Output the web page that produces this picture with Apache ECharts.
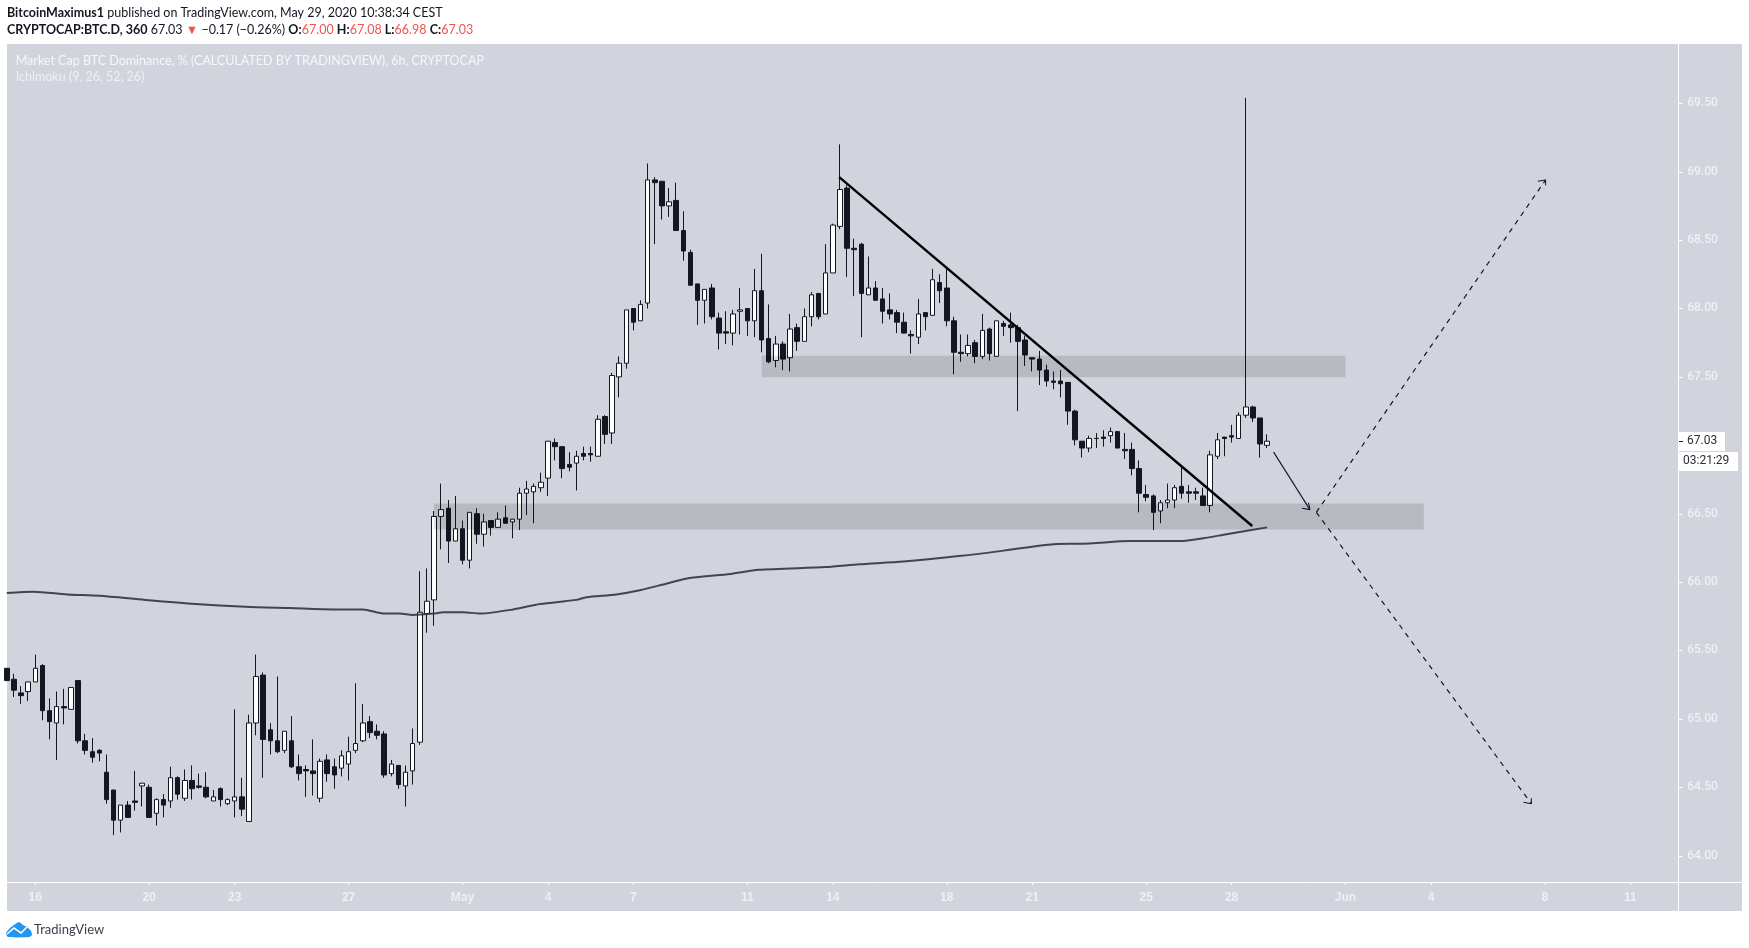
<!DOCTYPE html>
<html>
<head>
<meta charset="utf-8">
<style>
html, body { margin: 0; padding: 0; background: #fff; }
#chart { width: 1749px; height: 948px; }
</style>
<script src="https://cdn.jsdelivr.net/npm/echarts@6/dist/echarts.min.js"></script>
</head>
<body>
<div id="chart"></div>
<script>
// 6h candles, first one is Apr 15 00:00
var opens = [65.37,65.29,65.19,65.20,65.27,65.39,65.06,64.97,65.09,65.07,
  65.28,64.84,64.76,64.77,64.61,64.48,64.26,64.37,64.40,64.51,
  64.50,64.31,64.41,64.40,64.57,64.42,64.55,64.51,64.50,64.40,
  64.49,64.38,64.40,64.43,64.25,64.97,65.32,64.92,64.84,64.77,
  64.84,64.65,64.63,64.62,64.42,64.70,64.65,64.64,64.67,64.77,
  64.84,64.98,64.91,64.89,64.60,64.66,64.51,64.62,64.83,65.77,
  65.87,66.48,66.54,66.30,66.39,66.16,66.50,66.35,66.45,66.40,
  66.47,66.44,66.46,66.65,66.66,66.69,66.76,67.02,66.99,66.86,
  66.87,66.94,66.94,66.92,67.21,67.09,67.50,67.60,68.00,67.91,
  68.04,68.94,68.93,68.75,68.79,68.57,68.41,68.18,68.06,68.15,
  67.93,67.83,67.82,67.98,68.00,67.91,68.13,67.78,67.62,67.74,
  67.64,67.86,67.76,67.94,68.11,67.96,68.26,68.60,68.88,68.44,
  68.47,68.10,68.15,68.07,67.99,67.97,67.90,67.81,67.79,67.97,
  67.95,68.19,68.15,67.91,67.68,67.67,67.75,67.65,67.85,67.65,
  67.89,67.88,67.86,67.77,67.64,67.63,67.55,67.47,67.47,67.46,
  67.25,67.03,66.98,67.05,67.06,67.07,67.10,66.97,66.97,66.83,
  66.64,66.63,66.52,66.58,66.60,66.70,66.66,66.66,66.63,66.56,
  66.92,67.06,67.07,67.05,67.22,67.28,67.20,67.00];
var closes = [65.28,65.21,65.17,65.27,65.37,65.06,64.98,65.09,65.08,65.23,
  64.84,64.77,64.72,64.75,64.41,64.26,64.37,64.28,64.39,64.53,
  64.28,64.41,64.37,64.57,64.45,64.55,64.49,64.50,64.43,64.43,
  64.41,64.41,64.43,64.34,64.97,65.31,64.85,64.84,64.76,64.91,
  64.65,64.60,64.62,64.60,64.69,64.60,64.59,64.73,64.76,64.82,
  64.97,64.90,64.88,64.59,64.67,64.52,64.61,64.82,65.78,65.86,
  66.48,66.53,66.30,66.39,66.16,66.51,66.35,66.44,66.40,66.46,
  66.43,66.46,66.65,66.68,66.70,66.73,67.03,66.99,66.83,66.84,
  66.92,66.92,66.93,67.19,67.08,67.51,67.60,67.99,67.90,68.03,
  68.94,68.92,68.75,68.78,68.57,68.42,68.17,68.06,68.14,67.94,
  67.82,67.82,67.96,67.99,67.91,68.13,67.77,67.61,67.74,67.63,
  67.85,67.76,67.94,68.10,67.94,68.26,68.61,68.87,68.44,68.43,
  68.11,68.15,68.06,67.98,67.96,67.90,67.82,67.80,67.96,67.94,
  68.21,68.13,67.91,67.68,67.67,67.73,67.65,67.84,67.67,67.91,
  67.87,67.86,67.76,67.66,67.63,67.55,67.47,67.46,67.45,67.25,
  67.04,66.98,67.05,67.05,67.05,67.10,66.98,66.96,66.83,66.65,
  66.62,66.51,66.58,66.60,66.69,66.65,66.65,66.65,66.56,66.93,
  67.04,67.05,67.06,67.22,67.28,67.20,67.01,67.03];
var lows = [65.28,65.16,65.11,65.13,65.27,64.99,64.85,64.70,64.96,65.07,
  64.82,64.74,64.68,64.69,64.38,64.15,64.17,64.28,64.33,64.36,
  64.28,64.22,64.28,64.35,64.41,64.40,64.41,64.49,64.42,64.40,
  64.36,64.37,64.28,64.29,64.25,64.88,64.57,64.74,64.75,64.75,
  64.64,64.55,64.43,64.44,64.39,64.54,64.49,64.58,64.55,64.75,
  64.83,64.86,64.85,64.57,64.58,64.49,64.36,64.52,64.81,65.63,
  65.68,66.24,66.14,66.30,66.13,66.10,66.28,66.26,66.34,66.40,
  66.43,66.32,66.38,66.49,66.43,66.66,66.63,66.89,66.76,66.81,
  66.67,66.89,66.88,66.92,67.01,67.01,67.35,67.56,67.84,67.91,
  68.00,68.47,68.65,68.67,68.57,68.35,68.17,67.88,67.89,67.92,
  67.70,67.74,67.73,67.81,67.80,67.79,67.68,67.60,67.57,67.55,
  67.54,67.69,67.76,67.87,67.92,67.96,68.26,68.58,68.23,68.09,
  67.79,68.10,68.06,67.89,67.92,67.82,67.82,67.67,67.74,67.84,
  67.95,68.04,67.87,67.52,67.61,67.65,67.60,67.63,67.62,67.65,
  67.80,67.75,67.25,67.58,67.54,67.44,67.43,67.41,67.35,67.15,
  67.00,66.91,66.95,66.98,66.99,67.02,66.98,66.90,66.78,66.51,
  66.59,66.38,66.43,66.54,66.54,66.61,66.58,66.60,66.56,66.51,
  66.90,66.92,67.02,67.05,67.20,67.17,66.91,66.98];
var highs = [65.37,65.33,65.24,65.27,65.47,65.40,65.15,65.20,65.22,65.23,
  65.28,64.89,64.86,64.78,64.74,64.48,64.37,64.40,64.62,64.53,
  64.52,64.42,64.45,64.65,64.58,64.63,64.66,64.60,64.61,64.48,
  64.50,64.42,65.07,64.57,65.03,65.47,65.34,64.97,65.31,64.91,
  65.02,64.74,64.66,64.85,64.71,64.74,64.71,64.77,64.87,65.26,
  65.11,65.02,64.96,64.91,64.70,64.66,64.66,64.93,66.08,66.10,
  66.52,66.72,66.60,66.63,66.45,66.51,66.54,66.50,66.45,66.51,
  66.56,66.46,66.69,66.74,66.72,66.80,67.03,67.05,66.99,66.95,
  66.96,66.99,66.99,67.22,67.22,67.53,67.65,67.99,68.00,68.06,
  69.06,68.96,68.93,68.88,68.92,68.71,68.43,68.18,68.14,68.18,
  67.97,67.98,67.99,68.15,68.00,68.29,68.40,68.03,67.80,67.76,
  67.96,67.89,68.00,68.12,68.11,68.47,68.62,69.20,68.90,68.51,
  68.48,68.38,68.20,68.15,68.11,67.99,67.97,67.84,68.07,67.97,
  68.29,68.25,68.30,67.94,67.81,67.81,67.77,67.96,67.86,67.91,
  67.91,67.97,67.88,67.80,67.64,67.69,67.59,67.54,67.55,67.46,
  67.26,67.03,67.07,67.09,67.11,67.13,67.10,67.09,67.02,66.89,
  66.71,66.64,66.60,66.72,66.71,66.85,66.71,66.69,66.69,66.96,
  67.09,67.06,67.15,67.24,69.54,67.29,67.20,67.08];

// x axis: 4 slots a day, runs on past the last candle to Jun 14
var slotCount = 236;
var tickSlots = [4, 20, 32, 48, 64, 76, 88, 104, 116, 132, 144, 160, 172, 188, 200, 216, 228];
var tickLabels = ['16', '20', '23', '27', 'May', '4', '7', '11', '14', '18', '21', '25', '28', 'Jun', '4', '8', '11'];
var priceTicks = [64, 64.5, 65, 65.5, 66, 66.5, 67, 67.5, 68, 68.5, 69, 69.5];

var maLine = [[0,65.92],[3.7,65.93],[8.5,65.91],[13,65.90],[19.4,65.87],[26.5,65.84],[33.5,65.82],[39.8,65.81],
  [46,65.80],[50,65.80],[53,65.77],[55.2,65.77],[57,65.76],[60,65.77],[61.3,65.78],[64.1,65.78],[66.5,65.77],
  [71.1,65.80],[74.9,65.84],[80,65.87],[81.4,65.89],[85.6,65.91],[88.9,65.94],[92.7,65.99],[95.9,66.03],
  [101.6,66.06],[105.6,66.09],[115,66.11],[119.7,66.13],[125.9,66.15],[133.7,66.19],[140,66.23],[145.5,66.27],
  [149.4,66.28],[150.7,66.28],[157.7,66.30],[164.8,66.30],[168,66.32],[171.3,66.35],[177,66.40]];

// drawings, same [slot, value] form
var trendLine = [[116.9,68.96],[174.9,66.41]];
var arrowNow = [[177.9,66.95],[183,66.53]];
var arrowNowHead = [[181.9,66.54],[183,66.53],[182.8,66.58]];
var arrowUp = [[183.9,66.51],[216.1,68.94]];
var arrowUpHead = [[215,68.93],[216.1,68.94],[216.1,68.90]];
var arrowDown = [[183.9,66.51],[214.1,64.38]];
var arrowDownHead = [[213,64.39],[214.1,64.38],[214.1,64.42]];
var zoneUpper = [106, 188, 67.497, 67.654];
var zoneLower = [60, 199, 66.385, 66.575];

var categories = [];
for (var s = 0; s < slotCount; s++) {
  categories.push(String(s));
}
var candles = opens.map(function (o, i) {
  return [o, closes[i], lows[i], highs[i]];
});

var panelColor = '#d1d4dc';
var axisText = '#eef0f3';
var dark = '#131722';
var red = '#ef5350';
var headerFont = 'Lato';
var headerSize = 12.5;
var axisX = 1678.5;

function zoneArea(z) {
  return [{ xAxis: z[0], yAxis: z[3] }, { xAxis: z[1], yAxis: z[2] }];
}

function annotation(name, data, width, color, dashed, z) {
  return {
    name: name,
    type: 'line',
    xAxisIndex: 1,
    data: data,
    showSymbol: false,
    symbol: 'none',
    silent: true,
    z: z,
    lineStyle: { width: width, color: color, type: dashed ? [5, 5] : 'solid' }
  };
}

function headerText(x, y, text, fill, rich) {
  return {
    type: 'text', z: 20, silent: true, x: x, y: y,
    style: {
      text: text,
      fill: fill,
      font: headerSize + 'px ' + headerFont,
      verticalAlign: 'middle',
      rich: rich
    }
  };
}

var boldRich = { fontWeight: 'bold', fontFamily: headerFont, fontSize: headerSize, fill: dark };

var maSeries = annotation('MA', maLine, 2, 'rgba(50,53,62,0.9)', false, 4);
maSeries.smooth = 0.25;

var chart = echarts.init(document.getElementById('chart'));
chart.setOption({
  animation: false,
  backgroundColor: '#ffffff',
  grid: { left: 6.8, top: 44, width: 1673.4, height: 838, containLabel: false },
  xAxis: [
    {
      type: 'category',
      data: categories,
      boundaryGap: false,
      axisLine: { show: false },
      splitLine: { show: false },
      axisTick: {
        length: 3,
        lineStyle: { color: '#ffffff', width: 1 },
        interval: function (i) { return tickSlots.indexOf(i) >= 0; }
      },
      axisLabel: {
        color: axisText,
        fontFamily: 'Liberation Sans',
        fontWeight: 'bold',
        fontSize: 12,
        margin: 10,
        interval: function (i) { return tickSlots.indexOf(i) >= 0; },
        formatter: function (v, i) { return tickLabels[tickSlots.indexOf(i)]; }
      }
    },
    { type: 'value', min: 0, max: slotCount - 1, show: false }
  ],
  yAxis: {
    type: 'value',
    position: 'right',
    offset: -2,
    min: 63.8077,
    max: 69.9335,
    splitLine: { show: false },
    axisLine: { show: false },
    axisTick: { show: false },
    axisLabel: {
      color: axisText,
      fontFamily: 'Roboto',
      fontWeight: 500,
      fontSize: 12,
      margin: 9,
      padding: [3, 0, 0, 0],
      customValues: priceTicks,
      formatter: function (v) { return v.toFixed(2); }
    }
  },
  series: [
    {
      name: 'BTC.D',
      type: 'candlestick',
      xAxisIndex: 0,
      data: candles,
      barWidth: 5,
      clip: true,
      silent: true,
      z: 2,
      itemStyle: {
        color: '#ffffff',
        color0: dark,
        borderColor: dark,
        borderColor0: dark,
        borderWidth: 1
      }
    },
    maSeries,
    annotation('Trend', trendLine, 2.4, '#000000', false, 5),
    annotation('Arrow now', arrowNow, 1.1, dark, false, 5),
    annotation('Arrow now head', arrowNowHead, 1.1, dark, false, 5),
    annotation('Arrow up', arrowUp, 1.2, dark, true, 5),
    annotation('Arrow up head', arrowUpHead, 1, dark, false, 5),
    annotation('Arrow down', arrowDown, 1.2, dark, true, 5),
    annotation('Arrow down head', arrowDownHead, 1, dark, false, 5),
    {
      name: 'Zones',
      type: 'line',
      xAxisIndex: 1,
      data: [],
      silent: true,
      z: 3,
      markArea: {
        silent: true,
        z: 3,
        itemStyle: { color: 'rgba(0,0,0,0.12)' },
        data: [zoneArea(zoneUpper), zoneArea(zoneLower)]
      }
    },
    {
      // price ticks sit on the white line, not on the grid edge
      name: 'Price ticks',
      type: 'custom',
      xAxisIndex: 1,
      silent: true,
      clip: false,
      data: priceTicks.map(function (p) { return [0, p]; }),
      renderItem: function (params, api) {
        var y = Math.round(api.coord([0, api.value(1)])[1]) + 0.5;
        return {
          type: 'line',
          shape: { x1: axisX, y1: y, x2: axisX + 4, y2: y },
          style: { stroke: '#ffffff', lineWidth: 1 }
        };
      }
    }
  ],
  graphic: [
    { type: 'rect', z: -10, silent: true, shape: { x: 7, y: 44, width: 1735, height: 867 }, style: { fill: panelColor } },
    { type: 'line', z: 1, silent: true, shape: { x1: 7, y1: 882.5, x2: 1742, y2: 882.5 }, style: { stroke: '#ffffff', lineWidth: 1 } },
    { type: 'line', z: 1, silent: true, shape: { x1: axisX, y1: 44, x2: axisX, y2: 911 }, style: { stroke: '#ffffff', lineWidth: 1 } },
    headerText(7, 13, '{b|BitcoinMaximus1} published on TradingView.com, May 29, 2020 10:38:34 CEST', dark, { b: boldRich }),
    headerText(7, 30, '{b|CRYPTOCAP:BTC.D, 360} 67.03 {r|\u25BC} \u22120.17 (\u22120.26%) {b|O:}{r|67.00} {b|H:}{r|67.08} {b|L:}{r|66.98} {b|C:}{r|67.03}', dark, {
      b: boldRich,
      r: { fontFamily: headerFont, fontSize: headerSize, fill: red }
    }),
    headerText(15.7, 60.7, 'Market Cap BTC Dominance, % (CALCULATED BY TRADINGVIEW), 6h, CRYPTOCAP', '#f6f7f9'),
    headerText(15.7, 77, 'Ichimoku (9, 26, 52, 26)', '#eef0f3'),
    // last price and countdown tags
    { type: 'rect', z: 20, silent: true, shape: { x: 1679, y: 432, width: 46, height: 19 }, style: { fill: '#ffffff' } },
    { type: 'line', z: 21, silent: true, shape: { x1: 1679, y1: 441.5, x2: 1683, y2: 441.5 }, style: { stroke: dark, lineWidth: 1 } },
    { type: 'text', z: 21, silent: true, x: 1687, y: 435, style: { text: '67.03', fill: '#2a2e39', font: '12px Roboto' } },
    { type: 'rect', z: 20, silent: true, shape: { x: 1679, y: 452, width: 59, height: 19 }, style: { fill: '#ffffff' } },
    { type: 'text', z: 21, silent: true, x: 1683, y: 455, style: { text: '03:21:29', fill: '#2a2e39', font: '12px Roboto' } },
    // logo
    {
      type: 'polygon', z: 20, silent: true,
      shape: {
        points: [[8, 937], [6, 933], [10, 928], [14, 925], [19, 922], [23, 925], [27, 927], [31, 931], [32, 935], [29, 937]],
        smooth: 0.2
      },
      style: { fill: '#2196f3' }
    },
    {
      type: 'polyline', z: 21, silent: true,
      shape: { points: [[7, 934], [14, 928], [21, 933], [27, 927]] },
      style: { stroke: '#ffffff', lineWidth: 1.6, fill: 'none' }
    },
    {
      type: 'text', z: 20, silent: true, x: 34, y: 923,
      style: { text: 'TradingView', fill: '#3a3e4a', font: '13px ' + headerFont }
    }
  ]
});
</script>
</body>
</html>
